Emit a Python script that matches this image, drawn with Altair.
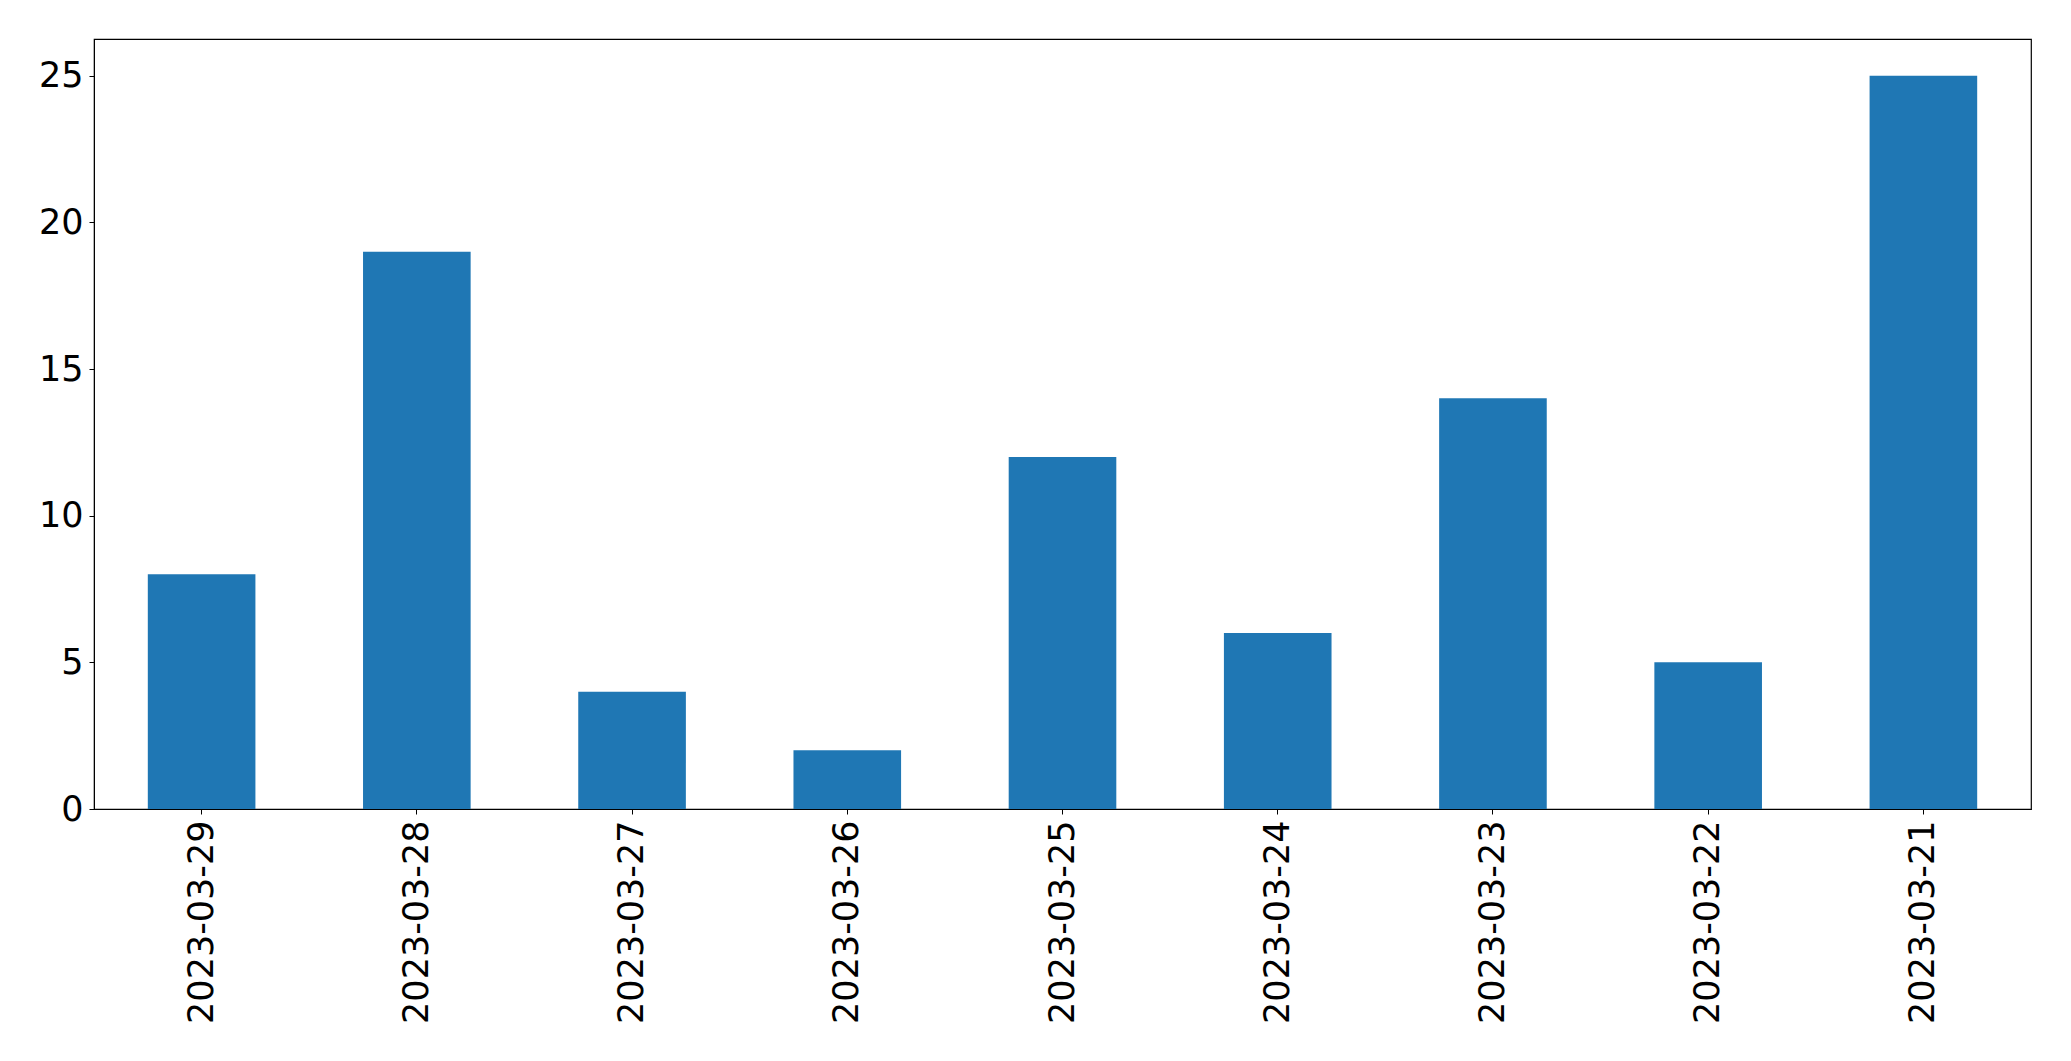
import altair as alt
import pandas as pd

dates = ["2023-03-29", "2023-03-28", "2023-03-27", "2023-03-26", "2023-03-25",
         "2023-03-24", "2023-03-23", "2023-03-22", "2023-03-21"]
counts = [8, 19, 4, 2, 12, 6, 14, 5, 25]
y_ticks = [0, 5, 10, 15, 20, 25]

df = pd.DataFrame({"date": dates, "count": counts})

FONT = "DejaVu Sans"

chart = alt.Chart(df).mark_bar(color="#1f77b4").encode(
    x=alt.X("date:N", sort=None, title=None,
            scale=alt.Scale(paddingInner=0.5, paddingOuter=0.25),
            axis=alt.Axis(labelAngle=270, labelFont=FONT, labelFontSize=35,
                          labelColor="black", tickColor="black", tickSize=5,
                          tickWidth=1, domainColor="black", domainWidth=1,
                          labelPadding=6, labelLimit=0, grid=False)),
    y=alt.Y("count:Q", title=None,
            scale=alt.Scale(domain=[0, 26.25], nice=False, zero=True),
            axis=alt.Axis(values=y_ticks, labelFont=FONT, labelFontSize=35,
                          labelColor="black", tickColor="black", tickSize=5,
                          tickWidth=1, domainColor="black", domainWidth=1,
                          labelPadding=6, grid=False)),
).properties(
    width=1937, height=770,
    autosize=alt.AutoSizeParams(type="none"),
    padding={"left": 86, "top": 31, "right": 20, "bottom": 240},
).configure(background="white").configure_view(stroke="black", strokeWidth=1.2)

chart.save("out.html", embed_options={"renderer": "svg", "actions": False})
